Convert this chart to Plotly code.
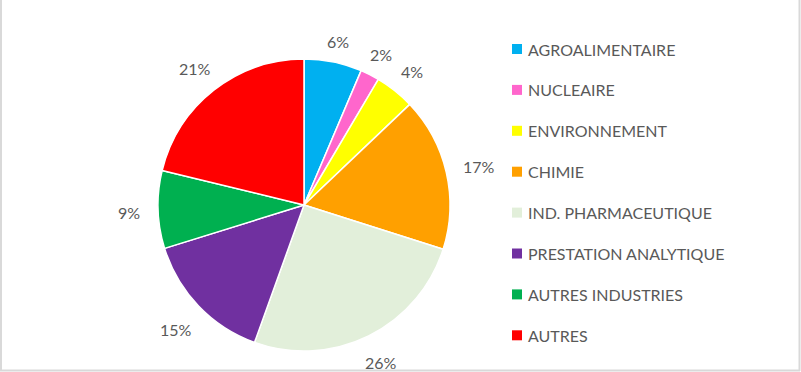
import math
import plotly.graph_objects as go

# ---- data ----
categories = ["AGROALIMENTAIRE", "NUCLEAIRE", "ENVIRONNEMENT", "CHIMIE",
              "IND. PHARMACEUTIQUE", "PRESTATION ANALYTIQUE", "AUTRES INDUSTRIES", "AUTRES"]
values = [6.4, 2.1, 4.4, 17.0, 25.6, 14.7, 8.6, 21.2]
colors = ["#00B0F0", "#FF66CC", "#FFFF00", "#FFA000",
          "#E2EFDA", "#7030A0", "#00B050", "#FF0000"]

W, H = 801, 372
CX, CY, R = 304, 205, 146  # pie centre / radius in pixels
TEXT_COLOR = "#595959"
FONT = "Lato, Open Sans, sans-serif"
FS = 16

def px(x):
    return x / W

def py(y):
    return 1 - y / H

fig = go.Figure()
fig.add_trace(go.Pie(
    labels=categories, values=values, sort=False, direction="clockwise", rotation=0,
    marker=dict(colors=colors, line=dict(color="white", width=1.5)),
    textinfo="none", hoverinfo="label+percent", showlegend=False,
    domain=dict(x=[px(CX - R), px(CX + R)], y=[py(CY + R), py(CY - R)]),
))

annotations = []
shapes = []

# data labels placed outside the pie, derived from the values
total = sum(values)
cum = 0.0
for v in values:
    mid = (cum + v / 2) / total * 2 * math.pi
    cum += v
    txt = f"{round(v / total * 100):d}%"
    w = 8.5 * len(txt) + 9
    h = 8
    s, c = math.sin(mid), math.cos(mid)
    off = R + 16 + abs(s) * w / 2 + abs(c) * h / 2
    x = CX + off * s
    y = CY - off * c + 2
    annotations.append(dict(x=px(x), y=py(y), xref="paper", yref="paper",
                            text=txt, showarrow=False, xanchor="center", yanchor="middle",
                            font=dict(family=FONT, size=FS, color=TEXT_COLOR)))

# legend (custom, to reproduce the wide Excel spacing)
for i, (cat, col) in enumerate(zip(categories, colors)):
    yc = 49 + 40.9 * i
    shapes.append(dict(type="rect", xref="paper", yref="paper",
                       x0=px(512), x1=px(522), y0=py(yc + 5), y1=py(yc - 5),
                       fillcolor=col, line=dict(width=0)))
    annotations.append(dict(x=px(526), y=py(yc), xref="paper", yref="paper",
                            text=cat, showarrow=False, xanchor="left", yanchor="middle",
                            font=dict(family=FONT, size=FS, color=TEXT_COLOR)))

# chart frame (left, right, bottom)
border = "#D9D9D9"
shapes.append(dict(type="line", xref="paper", yref="paper", x0=px(1), x1=px(1), y0=py(371), y1=1,
                   line=dict(color=border, width=2)))
shapes.append(dict(type="line", xref="paper", yref="paper", x0=px(799.5), x1=px(799.5), y0=py(371), y1=1,
                   line=dict(color=border, width=2)))
shapes.append(dict(type="line", xref="paper", yref="paper", x0=px(0), x1=px(800), y0=py(370.5), y1=py(370.5),
                   line=dict(color=border, width=2)))

fig.update_layout(
    width=W, height=H, margin=dict(l=0, r=0, t=0, b=0),
    paper_bgcolor="white", plot_bgcolor="white",
    annotations=annotations, shapes=shapes, showlegend=False,
    font=dict(family=FONT, color=TEXT_COLOR),
)

fig.write_html("out.html", config={"displayModeBar": False},
               post_script="document.body.style.margin='0';document.body.style.overflow='hidden';")
